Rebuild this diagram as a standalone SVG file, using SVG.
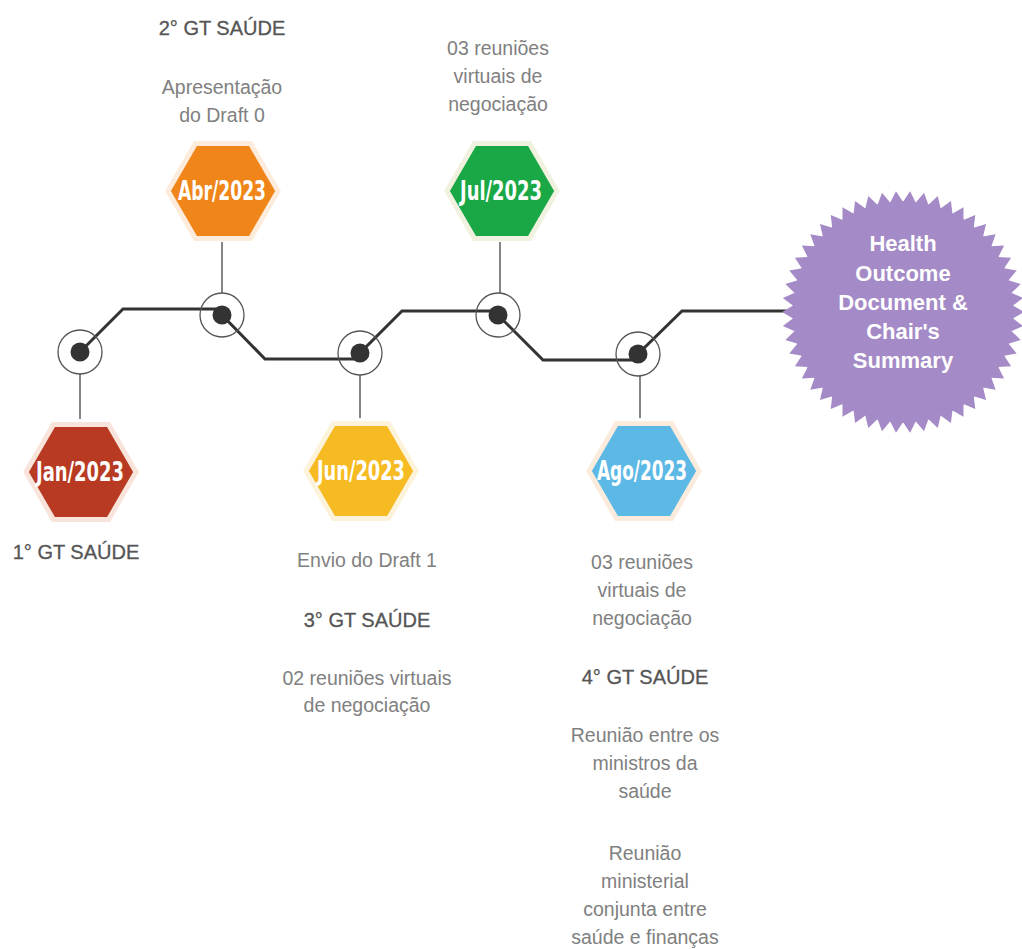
<svg xmlns="http://www.w3.org/2000/svg" xmlns:xlink="http://www.w3.org/1999/xlink" width="1022" height="949" viewBox="0 0 1022 949">
<style>
  .t { font-family: "Liberation Sans", Arial, sans-serif; font-size: 19.5px; fill: #808080; text-anchor: middle; }
  .gt { font-family: "Liberation Sans", Arial, sans-serif; font-size: 20px; fill: #555; stroke: #555; stroke-width: 0.3; text-anchor: middle; }
  .hx { font-family: "DejaVu Sans Condensed", "Liberation Sans", sans-serif; font-weight: bold; font-size: 26px; fill: #fff; text-anchor: middle; }
  .stem { stroke: #666; stroke-width: 1.6; fill: none; }
  .ring { fill: none; stroke: #555; stroke-width: 1.3; }
  .dot { fill: #333; }
  .conn { fill: none; stroke: #333; stroke-width: 3; stroke-linejoin: miter; }
  .bt { font-family: "Liberation Sans", Arial, sans-serif; font-weight: bold; font-size: 22px; fill: #fff; text-anchor: middle; }
</style>
<defs>
  <path id="hex" d="M-55,0 L-27.5,-47.6 L27.5,-47.6 L55,0 L27.5,47.6 L-27.5,47.6 Z"/>
  <path id="sp1" d="M109.8,-6.5 L121,0 L109.8,6.5 Z"/>
  <g id="sp2"><use xlink:href="#sp1"/><use xlink:href="#sp1" transform="rotate(6.667)"/></g>
  <g id="sp6"><use xlink:href="#sp2"/><use xlink:href="#sp2" transform="rotate(13.333)"/><use xlink:href="#sp2" transform="rotate(26.667)"/></g>
  <g id="sp18"><use xlink:href="#sp6"/><use xlink:href="#sp6" transform="rotate(40)"/><use xlink:href="#sp6" transform="rotate(80)"/></g>
</defs>
<rect width="1022" height="949" fill="#fff"/>

<g id="connectors">
  <polyline class="conn" points="80,352 123,309 218,309 222,315 265,359 356,359 360,353 402,311 494,311 498,315 543,360 634,360 638,354 682,311 790,311"/>
  <line class="stem" x1="80" y1="374" x2="80" y2="419"/>
  <line class="stem" x1="222" y1="242" x2="222" y2="293"/>
  <line class="stem" x1="360" y1="375" x2="360" y2="418"/>
  <line class="stem" x1="500" y1="242" x2="500" y2="293"/>
  <line class="stem" x1="640" y1="376" x2="640" y2="418"/>
</g>

<g id="node-jan">
  <circle class="ring" cx="80" cy="352" r="22"/>
  <circle class="dot" cx="80" cy="352" r="9.5"/>
  <use xlink:href="#hex" transform="translate(81,472)" fill="#b83a22" stroke="#f8e4da" stroke-width="5"/>
  <text class="hx" x="80" y="481" textLength="88" lengthAdjust="spacingAndGlyphs">Jan/2023</text>
  <text class="gt" x="76" y="559">1° GT SAÚDE</text>
</g>

<g id="node-abr">
  <circle class="ring" cx="222" cy="315" r="22"/>
  <circle class="dot" cx="222" cy="315" r="9.5"/>
  <use xlink:href="#hex" transform="translate(223,191)" fill="#f08519" stroke="#fdecdc" stroke-width="5"/>
  <text class="hx" x="222" y="200" textLength="88" lengthAdjust="spacingAndGlyphs">Abr/2023</text>
  <text class="gt" x="222" y="35">2° GT SAÚDE</text>
  <text class="t" x="222" y="94">Apresentação</text>
  <text class="t" x="222" y="122">do Draft 0</text>
</g>

<g id="node-jun">
  <circle class="ring" cx="360" cy="353" r="22"/>
  <circle class="dot" cx="360" cy="353" r="9.5"/>
  <use xlink:href="#hex" transform="translate(361,471)" fill="#f6bb22" stroke="#fdf2da" stroke-width="5"/>
  <text class="hx" x="361" y="480" textLength="88" lengthAdjust="spacingAndGlyphs">Jun/2023</text>
  <text class="t" x="367" y="567">Envio do Draft 1</text>
  <text class="gt" x="367" y="627">3° GT SAÚDE</text>
  <text class="t" x="367" y="685">02 reuniões virtuais</text>
  <text class="t" x="367" y="712">de negociação</text>
</g>

<g id="node-jul">
  <circle class="ring" cx="498" cy="315" r="22"/>
  <circle class="dot" cx="498" cy="315" r="9.5"/>
  <use xlink:href="#hex" transform="translate(502,191)" fill="#1aa847" stroke="#f0f1de" stroke-width="5"/>
  <text class="hx" x="501" y="200" textLength="82" lengthAdjust="spacingAndGlyphs">Jul/2023</text>
  <text class="t" x="498" y="55">03 reuniões</text>
  <text class="t" x="498" y="83">virtuais de</text>
  <text class="t" x="498" y="111">negociação</text>
</g>

<g id="node-ago">
  <circle class="ring" cx="638" cy="354" r="22"/>
  <circle class="dot" cx="638" cy="354" r="9.5"/>
  <use xlink:href="#hex" transform="translate(644,471)" fill="#5cb8e5" stroke="#fbebdd" stroke-width="5"/>
  <text class="hx" x="642" y="480" textLength="90" lengthAdjust="spacingAndGlyphs">Ago/2023</text>
  <text class="t" x="642" y="569">03 reuniões</text>
  <text class="t" x="642" y="597">virtuais de</text>
  <text class="t" x="642" y="625">negociação</text>
  <text class="gt" x="645" y="684">4° GT SAÚDE</text>
  <text class="t" x="645" y="742">Reunião entre os</text>
  <text class="t" x="645" y="770">ministros da</text>
  <text class="t" x="645" y="798">saúde</text>
  <text class="t" x="645" y="860">Reunião</text>
  <text class="t" x="645" y="888">ministerial</text>
  <text class="t" x="645" y="916">conjunta entre</text>
  <text class="t" x="645" y="944">saúde e finanças</text>
</g>

<g id="node-outcome">
  <g transform="translate(903,312)" fill="#a48ac6">
    <circle r="110.5"/>
    <use xlink:href="#sp18"/>
    <use xlink:href="#sp18" transform="rotate(120)"/>
    <use xlink:href="#sp18" transform="rotate(240)"/>
  </g>
  <text class="bt" x="903" y="251">Health</text>
  <text class="bt" x="903" y="281">Outcome</text>
  <text class="bt" x="903" y="310">Document &amp;</text>
  <text class="bt" x="903" y="339">Chair's</text>
  <text class="bt" x="903" y="368">Summary</text>
</g>
</svg>
